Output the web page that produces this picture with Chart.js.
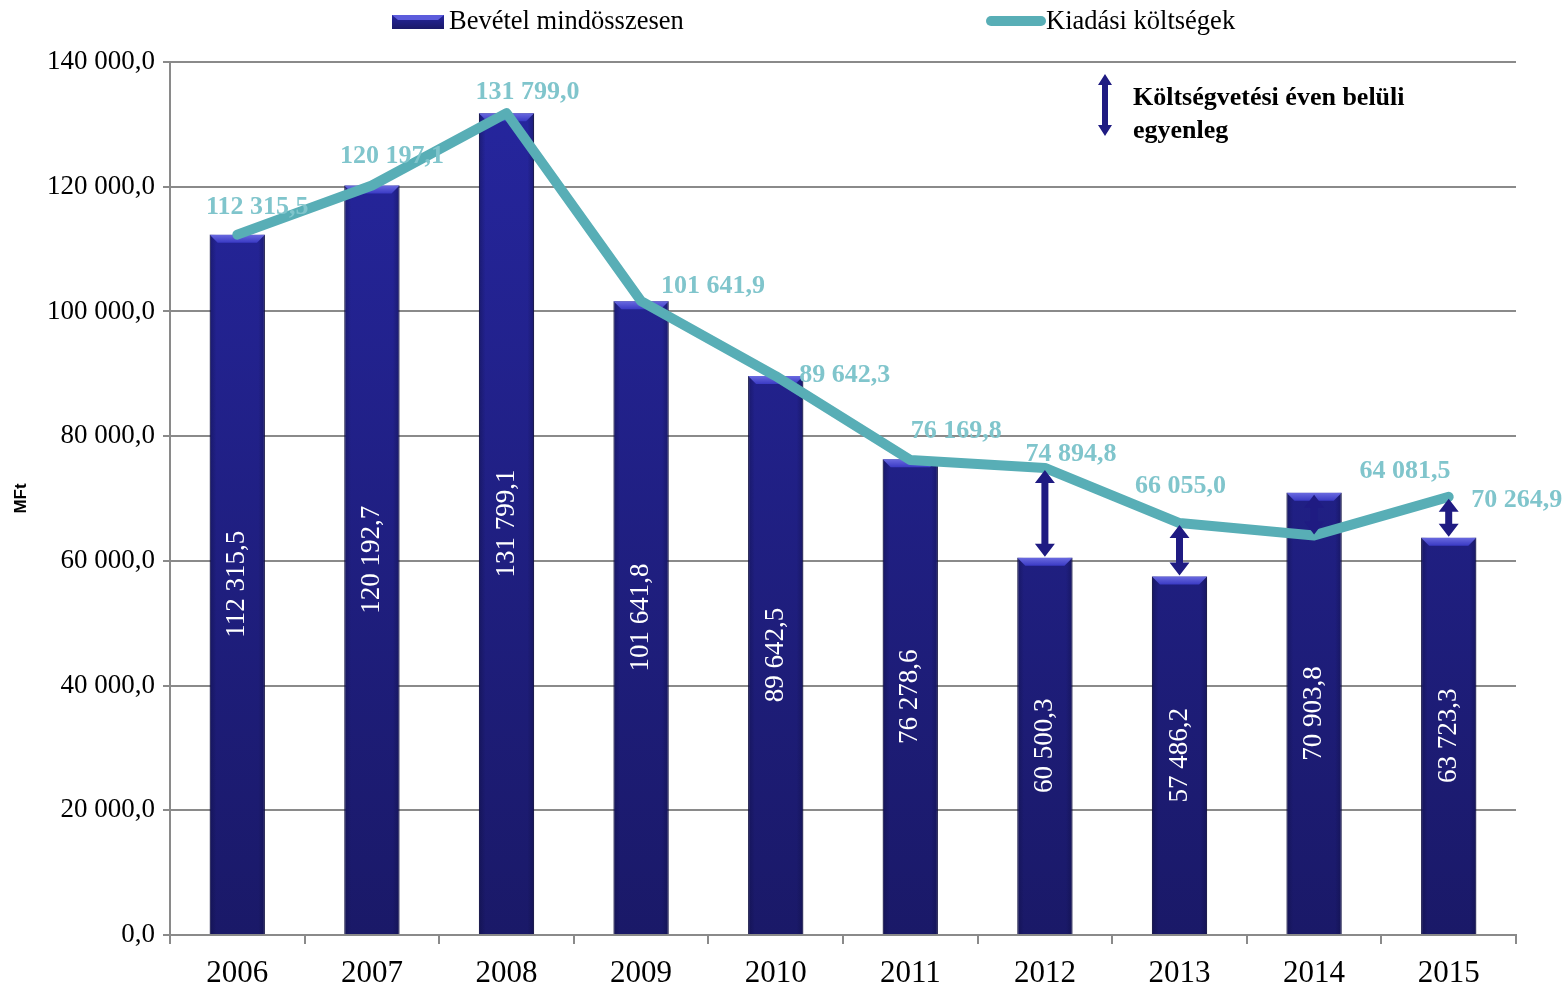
<!DOCTYPE html>
<html>
<head>
<meta charset="utf-8">
<script src="https://cdn.jsdelivr.net/npm/chart.js@4.4.1/dist/chart.umd.min.js"></script>
<style>
html,body{margin:0;padding:0;background:#fff;}
#wrap{width:1566px;height:985px;position:relative;}
</style>
</head>
<body>
<div id="wrap"><canvas id="c"></canvas></div>
<script>
// ---- data ----
const years = ['2006','2007','2008','2009','2010','2011','2012','2013','2014','2015'];
const revenue = [112315.5,120192.7,131799.1,101641.8,89642.5,76278.6,60500.3,57486.2,70903.8,63723.3];
const expenditure = [112315.5,120197.1,131799.0,101641.9,89642.3,76169.8,74894.8,66055.0,64081.5,70264.9];
const balanceYears = ['2012','2013','2014','2015'];
const seriesNames = ['Bevétel mindösszesen','Kiadási költségek'];
const annotationLines = ['Költségvetési éven belüli','egyenleg'];
const yAxisTitle = 'MFt';

// ---- helpers ----
function fmt(v){
  const parts = Number(v).toFixed(1).split('.');
  return parts[0].replace(/\B(?=(\d{3})+(?!\d))/g,' ') + ',' + parts[1];
}
const SERIF = '"Liberation Serif","DejaVu Serif",serif';
const LINE_COLOR = '#58aeb6';
const LABEL_COLOR = '#80c5cc';
const ARROW_COLOR = '#1f1b82';
// label placement offsets (dx, dy) relative to the line point
const lineLabelOffsets = [[20,-27],[20,-29],[21,-21],[72,-15],[69,-1],[46,-29],[26,-14],[1,-37],[91,-64],[68,3]];

function drawDoubleArrow(ctx, x, yTop, yBot, shaftW, headW, headL, color){
  ctx.save();
  ctx.fillStyle = color;
  ctx.beginPath();
  ctx.moveTo(x, yTop);
  ctx.lineTo(x + headW/2, yTop + headL);
  ctx.lineTo(x + shaftW/2, yTop + headL);
  ctx.lineTo(x + shaftW/2, yBot - headL);
  ctx.lineTo(x + headW/2, yBot - headL);
  ctx.lineTo(x, yBot);
  ctx.lineTo(x - headW/2, yBot - headL);
  ctx.lineTo(x - shaftW/2, yBot - headL);
  ctx.lineTo(x - shaftW/2, yTop + headL);
  ctx.lineTo(x - headW/2, yTop + headL);
  ctx.closePath();
  ctx.fill();
  ctx.restore();
}

function barGradient(ctx, top, bottom){
  const g = ctx.createLinearGradient(0, top, 0, bottom);
  g.addColorStop(0, '#2626a0');
  g.addColorStop(1, '#1a1968');
  return g;
}

const customPlugin = {
  id: 'custom',
  afterDatasetDraw(chart, args){
    const ctx = chart.ctx;
    if (args.index !== 0) return;
    const meta = chart.getDatasetMeta(0);
    ctx.save();
    meta.data.forEach((bar, i) => {
      const w = bar.width;
      const l = bar.x - w/2, r = bar.x + w/2;
      const t = bar.y;
      // side shading
      const sg = ctx.createLinearGradient(l, 0, r, 0);
      sg.addColorStop(0, 'rgba(10,10,50,0.35)');
      sg.addColorStop(0.12, 'rgba(10,10,50,0)');
      sg.addColorStop(0.88, 'rgba(10,10,50,0)');
      sg.addColorStop(1, 'rgba(10,10,50,0.35)');
      ctx.fillStyle = sg;
      ctx.fillRect(l, t, w, bar.base - t);
      // bevel top
      const bh = 8;
      const bg = ctx.createLinearGradient(0, t, 0, t + bh);
      bg.addColorStop(0, '#6a6ae0');
      bg.addColorStop(1, '#3a3ac4');
      ctx.fillStyle = bg;
      ctx.beginPath();
      ctx.moveTo(l, t);
      ctx.lineTo(r, t);
      ctx.lineTo(r - 8, t + bh);
      ctx.lineTo(l + 8, t + bh);
      ctx.closePath();
      ctx.fill();
      // value label rotated
      ctx.save();
      ctx.translate(bar.x, (t + bar.base)/2);
      ctx.rotate(-Math.PI/2);
      ctx.fillStyle = '#ffffff';
      ctx.font = '27px ' + SERIF;
      ctx.textAlign = 'center';
      ctx.textBaseline = 'middle';
      ctx.fillText(fmt(revenue[i]), 0, 0);
      ctx.restore();
    });
    ctx.restore();
  },
  afterDatasetsDraw(chart){
    const ctx = chart.ctx;
    const xS = chart.scales.x, yS = chart.scales.y;
    // balance arrows
    balanceYears.forEach(yr => {
      const i = years.indexOf(yr);
      const x = xS.getPixelForValue(i);
      const a = yS.getPixelForValue(expenditure[i]);
      const b = yS.getPixelForValue(revenue[i]);
      const top = Math.min(a, b) + 2, bot = Math.max(a, b) - 1;
      drawDoubleArrow(ctx, x, top, bot, 7, 20, 13, ARROW_COLOR);
    });
    // line labels
    const lm = chart.getDatasetMeta(1);
    ctx.save();
    ctx.font = 'bold 26px ' + SERIF;
    ctx.fillStyle = LABEL_COLOR;
    ctx.textAlign = 'center';
    ctx.textBaseline = 'middle';
    lm.data.forEach((pt, i) => {
      const o = lineLabelOffsets[i];
      ctx.fillText(fmt(expenditure[i]), pt.x + o[0], pt.y + o[1]);
    });
    ctx.restore();

    // legend
    ctx.save();
    ctx.font = '26.5px ' + SERIF;
    ctx.fillStyle = '#000';
    ctx.textBaseline = 'middle';
    ctx.textAlign = 'left';
    // bar swatch
    ctx.fillStyle = barGradient(ctx, 15, 29);
    ctx.fillRect(392, 15, 52, 14);
    ctx.fillStyle = '#5c5cdc';
    ctx.beginPath();
    ctx.moveTo(392,15); ctx.lineTo(444,15); ctx.lineTo(438,20); ctx.lineTo(398,20); ctx.closePath(); ctx.fill();
    ctx.fillStyle = '#000';
    ctx.fillText(seriesNames[0], 449, 22);
    // line swatch
    ctx.strokeStyle = LINE_COLOR;
    ctx.lineWidth = 10;
    ctx.lineCap = 'round';
    ctx.beginPath(); ctx.moveTo(991, 21); ctx.lineTo(1041, 21); ctx.stroke();
    ctx.fillText(seriesNames[1], 1046, 22);
    // annotation
    drawDoubleArrow(ctx, 1105, 74, 136, 6, 14, 11, ARROW_COLOR);
    ctx.font = 'bold 26px ' + SERIF;
    ctx.fillText(annotationLines[0], 1133, 98);
    ctx.fillText(annotationLines[1], 1133, 131);
    ctx.restore();
  }
};

const ctx = document.getElementById('c').getContext('2d');
new Chart(ctx, {
  data: {
    labels: years,
    datasets: [
      {
        type: 'bar',
        label: seriesNames[0],
        data: revenue,
        order: 1,
        barPercentage: 0.41,
        categoryPercentage: 1,
        borderColor: '#12114a',
        borderWidth: 1,
        borderSkipped: 'bottom',
        backgroundColor(c){
          const a = c.chart.chartArea;
          if (!a) return '#23228a';
          return barGradient(c.chart.ctx, a.top, a.bottom);
        }
      },
      {
        type: 'line',
        label: seriesNames[1],
        data: expenditure,
        order: 0,
        borderColor: LINE_COLOR,
        borderWidth: 10,
        pointRadius: 0,
        tension: 0,
        borderJoinStyle: 'round',
        borderCapStyle: 'round',
        fill: false
      }
    ]
  },
  options: {
    responsive: true,
    maintainAspectRatio: false,
    animation: false,
    layout: { padding: { top: 62, right: 50, left: 3, bottom: 0 } },
    plugins: { legend: { display: false }, tooltip: { enabled: false } },
    scales: {
      x: {
        offset: true,
        grid: { offset: true, drawOnChartArea: false, drawTicks: true, tickLength: 9, color: '#8a8a8a', lineWidth: 2 },
        border: { display: true, color: '#8a8a8a', width: 2 },
        ticks: { font: { family: SERIF, size: 31 }, color: '#000', padding: 11, maxRotation: 0 },
        afterFit(s){ s.height = 50; }
      },
      y: {
        min: 0, max: 140000,
        ticks: { stepSize: 20000, font: { family: SERIF, size: 27 }, color: '#000', padding: 8, callback: v => fmt(v) },
        grid: { color: '#8a8a8a', lineWidth: 2, tickLength: 7, drawTicks: true },
        border: { display: true, color: '#8a8a8a', width: 2 },
        title: { display: true, text: yAxisTitle, font: { family: '"Liberation Sans", Arial, sans-serif', size: 17, weight: 'bold' }, color: '#000', padding: { top: 8, bottom: 0 } },
        afterFit(s){ s.width = 167; }
      }
    }
  },
  plugins: [customPlugin]
});
</script>
</body>
</html>
